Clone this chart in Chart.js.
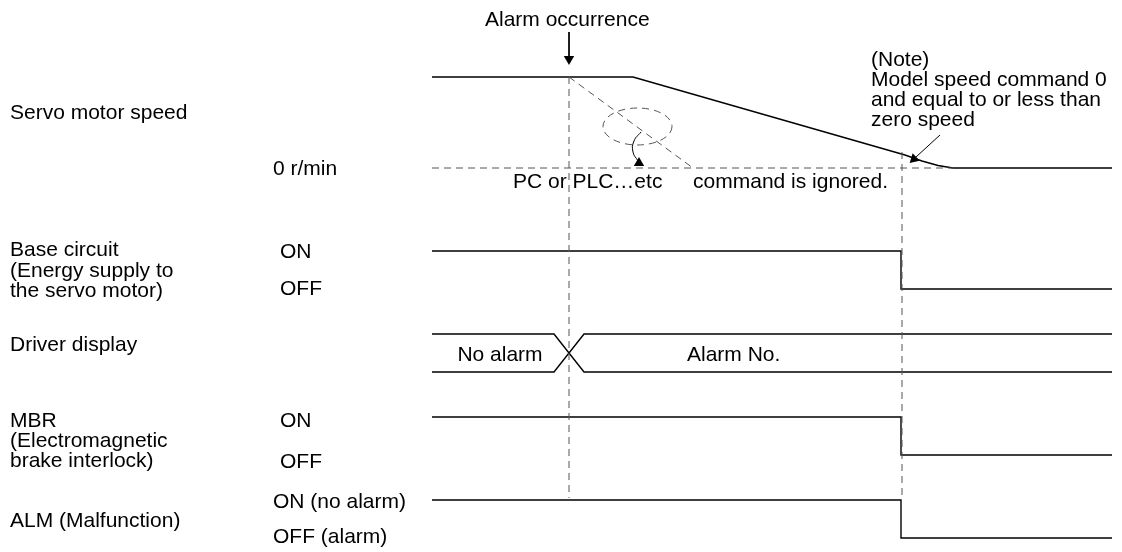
<!DOCTYPE html>
<html>
<head>
<meta charset="utf-8">
<script src="https://cdn.jsdelivr.net/npm/chart.js@4"></script>
<style>
  body { margin: 0; background: #fff; }
  canvas { display: block; }
</style>
</head>
<body>
<canvas id="timing" width="1122" height="552"></canvas>
<script>
// values (x = time position, y = vertical level, both in sheet units)
const speedX = [432, 633, 905, 922, 938, 953, 1112];
const speedY = [77, 77, 155, 161, 165.5, 168, 168];

const zeroLineX = [432, 953];
const zeroLineY = [168, 168];

const cmdLineX = [569, 693];
const cmdLineY = [77, 168];

const alarmMarkX = [569, 569];
const alarmMarkY = [77, 498];
const zeroMarkX = [902, 902];
const zeroMarkY = [152, 500];

const baseX = [432, 901, 901, 1112];
const baseY = [251, 251, 289, 289];

const dispTopX = [432, 554, 584, 1112];
const dispTopY = [334, 334, 372, 372];
const dispBotX = [432, 554, 584, 1112];
const dispBotY = [372, 372, 334, 334];

const mbrX = [432, 901, 901, 1112];
const mbrY = [417, 417, 455, 455];

const almX = [432, 901, 901, 1112];
const almY = [500, 500, 538, 538];

const alarmArrowX = [569, 569];
const alarmArrowY = [32, 56];
const noteArrowX = [940, 916];
const noteArrowY = [135, 157];
const ignoreArrowX = [641, 634, 633, 638];
const ignoreArrowY = [132, 141, 152, 161];

// texts
const rowLabels = ['Servo motor speed', 'Base circuit', '(Energy supply to', 'the servo motor)',
  'Driver display', 'MBR', '(Electromagnetic', 'brake interlock)', 'ALM (Malfunction)'];
const levelLabels = ['0 r/min', 'ON', 'OFF', 'ON', 'OFF', 'ON (no alarm)', 'OFF (alarm)'];
const noteLines = ['(Note)', 'Model speed command 0', 'and equal to or less than', 'zero speed'];
const displayLabels = ['No alarm', 'Alarm No.'];
const alarmTitle = 'Alarm occurrence';
const ignoredLabels = ['PC or PLC\u2026etc', 'command is ignored.'];

function pts(xs, ys) {
  return xs.map((x, i) => ({ x: x, y: ys[i] }));
}

function solid(xs, ys) {
  return { data: pts(xs, ys), borderColor: '#000', borderWidth: 1.4, pointRadius: 0, tension: 0 };
}
function dashed(xs, ys) {
  return { data: pts(xs, ys), borderColor: '#555', borderWidth: 1, borderDash: [7, 5], pointRadius: 0 };
}
function head(x, y, rot, r) {
  return { data: [{ x: x, y: y }], showLine: false, pointStyle: 'triangle', pointRotation: rot,
    pointRadius: r, pointBackgroundColor: '#000', pointBorderColor: '#000', pointBorderWidth: 0 };
}

const textPlugin = {
  id: 'texts',
  afterDatasetsDraw(chart) {
    const ctx = chart.ctx;
    const sx = chart.scales.x, sy = chart.scales.y;
    const put = (t, x, y, align) => {
      ctx.textAlign = align || 'left';
      ctx.fillText(t, sx.getPixelForValue(x), sy.getPixelForValue(y));
    };
    ctx.save();
    ctx.fillStyle = '#000';
    ctx.font = '21px "Liberation Sans", Arial, sans-serif';
    ctx.textBaseline = 'alphabetic';

    const rowY = [119, 256, 277, 297, 351, 427, 447, 467, 527];
    rowLabels.forEach((t, i) => put(t, 10, rowY[i]));

    const lvX = [273, 280, 280, 280, 280, 273, 273];
    const lvY = [175, 258, 295, 427, 468, 508, 543];
    levelLabels.forEach((t, i) => put(t, lvX[i], lvY[i]));

    const noteY = [66, 86, 106, 126];
    noteLines.forEach((t, i) => put(t, 871, noteY[i]));

    put(alarmTitle, 485, 26);
    put(displayLabels[0], 500, 361, 'center');
    put(displayLabels[1], 687, 361);
    put(ignoredLabels[0], 513, 188);
    put(ignoredLabels[1], 888, 188, 'right');

    // dashed ellipse around the ignored command
    const cx = sx.getPixelForValue(637.5), cy = sy.getPixelForValue(126.5);
    const rx = sx.getPixelForValue(672) - cx, ry = sy.getPixelForValue(145) - cy;
    ctx.strokeStyle = '#555';
    ctx.lineWidth = 1;
    ctx.setLineDash([7, 5]);
    ctx.beginPath();
    ctx.ellipse(cx, cy, rx, ry, 0, 0, Math.PI * 2);
    ctx.stroke();
    ctx.restore();
  }
};

new Chart(document.getElementById('timing'), {
  type: 'scatter',
  data: {
    datasets: [
      dashed(zeroLineX, zeroLineY),
      dashed(cmdLineX, cmdLineY),
      dashed(alarmMarkX, alarmMarkY),
      dashed(zeroMarkX, zeroMarkY),
      solid(speedX, speedY),
      solid(baseX, baseY),
      solid(dispTopX, dispTopY),
      solid(dispBotX, dispBotY),
      solid(mbrX, mbrY),
      solid(almX, almY),
      Object.assign(solid(alarmArrowX, alarmArrowY), { borderWidth: 1 }),
      Object.assign(solid(noteArrowX, noteArrowY), { borderWidth: 1 }),
      Object.assign(solid(ignoreArrowX, ignoreArrowY), { borderWidth: 1, tension: 0.5 }),
      head(569, 59, 180, 6),
      head(914, 159, 227, 6),
      head(639, 163, 0, 6)
    ].map(d => Object.assign({ showLine: true, clip: false }, d))
  },
  options: {
    responsive: false,
    animation: false,
    layout: { padding: 0, autoPadding: false },
    plugins: { legend: { display: false }, tooltip: { enabled: false } },
    scales: {
      x: { type: 'linear', min: 0, max: 1122, display: false },
      y: { type: 'linear', min: 0, max: 552, reverse: true, display: false }
    }
  },
  plugins: [textPlugin]
});
</script>
</body>
</html>
